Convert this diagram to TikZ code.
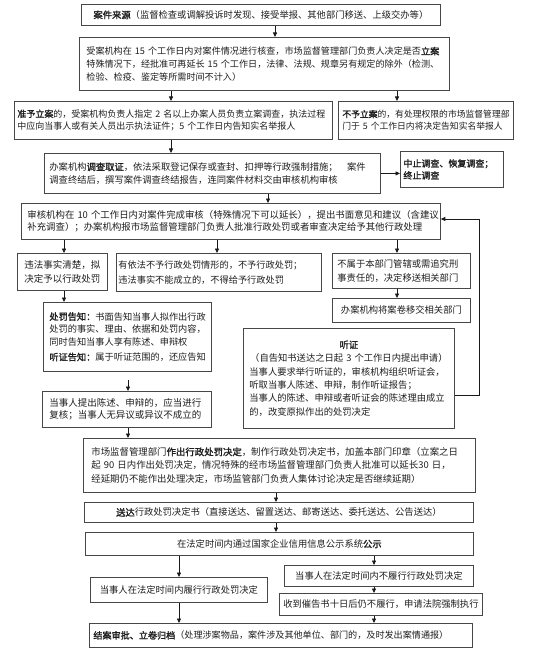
\documentclass[tikz,border=0pt]{standalone}
\usepackage{fontspec}
\setmainfont{Noto Sans CJK SC}
\newfontfamily\bfcjk{Noto Sans CJK SC}[FakeBold=1.6]
\newcommand\B[1]{{\bfcjk #1}}
\newcommand\setfs[2]{\fontsize{#1}{#2}\selectfont}
\usetikzlibrary{arrows.meta}
\tikzset{
  bx/.style={draw=black!72, line width=0.8pt, anchor=north west, inner ysep=0pt, text=black!88},
  arr/.style={-{Triangle[length=4.5pt,width=4pt]}, line width=0.75pt, black!90},
}
\begin{document}
\begin{tikzpicture}[x=1pt,y=-1pt]
\useasboundingbox (0,0) rectangle (554,655);
\fill[white] (0,0) rectangle (554,655);

\node[bx, minimum width=359pt, minimum height=21pt, text width=351pt, inner xsep=4pt, align=center, font=\setfs{9.3}{12}] (b1) at (81,4)
 {\B{案件来源}（监督检查或调解投诉时发现、接受举报、其他部门移送、上级交办等）};

\node[bx, minimum width=370pt, minimum height=53pt, text width=356pt, inner xsep=7pt, align=left, font=\setfs{9.1}{12.7}] (b2) at (79,37)
 {受案机构在~15~个工作日内对案件情况进行核查，市场监督管理部门负责人决定是否\B{立案}\\
  特殊情况下，经批准可再延长~15~个工作日，法律、法规、规章另有规定的除外（检测、\\
  检验、检疫、鉴定等所需时间不计入）};

\node[bx, minimum width=318pt, minimum height=38pt, text width=312pt, inner xsep=3pt, align=left, font=\setfs{9.0}{12.5}] (b3) at (14,101)
 {\B{准予立案}的，受案机构负责人指定~2~名以上办案人员负责立案调查，执法过程\\
  中应向当事人或有关人员出示执法证件；5~个工作日内告知实名举报人};

\node[bx, minimum width=175pt, minimum height=38pt, text width=167pt, inner xsep=4pt, align=left, font=\setfs{8.8}{12.5}] (b4) at (338,101)
 {\B{不予立案}的，有处理权限的市场监督管理部\\
  门于~5~个工作日内将决定告知实名举报人};

\node[bx, minimum width=336pt, minimum height=40pt, text width=326pt, inner xsep=5pt, align=left, font=\setfs{9.3}{13}] (b5) at (44,153)
 {办案机构\B{调查取证}，依法采取登记保存或查封、扣押等行政强制措施；\hspace{1em}案件\\
  调查终结后，撰写案件调查终结报告，连同案件材料交由审核机构审核};

\node[bx, minimum width=103pt, minimum height=36pt, text width=97pt, inner xsep=3pt, align=left, font=\setfs{9.0}{12}] (b6) at (400,151)
 {\B{中止调查、恢复调查；}\\\B{终止调查}};

\node[bx, minimum width=419pt, minimum height=36pt, text width=407pt, inner xsep=6pt, align=left, font=\setfs{9.4}{12.5}] (b7) at (21,203)
 {审核机构在~10~个工作日内对案件完成审核（特殊情况下可以延长），提出书面意见和建议（含建议\\
  补充调查）；办案机构报市场监督管理部门负责人批准行政处罚或者审查决定给予其他行政处理};

\node[bx, minimum width=90pt, minimum height=37pt, text width=80pt, inner xsep=5pt, align=center, font=\setfs{9.5}{14.5}] (b8a) at (17,253)
 {违法事实清楚，拟\\决定予以行政处罚};

\node[bx, minimum width=205pt, minimum height=38pt, text width=201pt, inner xsep=2pt, align=left, font=\setfs{9.2}{14.5}] (b8b) at (116,253)
 {有依法不予行政处罚情形的，不予行政处罚；\\违法事实不能成立的，不得给予行政处罚};

\node[bx, minimum width=138pt, minimum height=35pt, text width=128pt, inner xsep=5pt, align=left, font=\setfs{9.3}{14}] (b8c) at (332,253)
 {不属于本部门管辖或需追究刑\\事责任的，决定移送相关部门};

\node[bx, minimum width=138pt, minimum height=24pt, text width=130pt, inner xsep=4pt, align=center, font=\setfs{9.3}{12}] (b9c) at (332,298)
 {办案机构将案卷移交相关部门};

\node[bx, minimum width=168pt, minimum height=69pt, text width=156pt, inner xsep=6pt, align=left, font=\setfs{9.2}{12.5}] (b9a) at (43,302)
 {\B{处罚告知：}书面告知当事人拟作出行政\\
  处罚的事实、理由、依据和处罚内容，\\
  同时告知当事人享有陈述、申辩权\\[3pt]
  \B{听证告知：}属于听证范围的，还应告知};

\node[bx, minimum width=211pt, minimum height=100pt, text width=199pt, inner xsep=6pt, align=center, font=\setfs{9.3}{13.4}] (ting) at (243,328)
 {\B{听证}\\
  （自告知书送达之日起~3~个工作日内提出申请）\\
  \makebox[199pt][l]{当事人要求举行听证的，审核机构组织听证会，}\\
  \makebox[199pt][l]{听取当事人陈述、申辩，制作听证报告；}\\
  \makebox[199pt][l]{当事人的陈述、申辩或者听证会的陈述理由成立}\\
  \makebox[199pt][l]{的，改变原拟作出的处罚决定}};

\node[bx, minimum width=169pt, minimum height=36pt, text width=155pt, inner xsep=7pt, align=left, font=\setfs{9.5}{12.5}] (b10) at (42,391)
 {当事人提出陈述、申辩的，应当进行\\复核；当事人无异议或异议不成立的};

\node[bx, minimum width=392pt, minimum height=54pt, text width=376pt, inner xsep=8pt, align=left, font=\setfs{9.4}{13.5}] (b11) at (83,438)
 {市场监督管理部门\B{作出行政处罚决定}，制作行政处罚决定书，加盖本部门印章（立案之日\\
  起~90~日内作出处罚决定，情况特殊的经市场监督管理部门负责人批准可以延长30~日，\\
  经延期仍不能作出处理决定，市场监管部门负责人集体讨论决定是否继续延期）};

\node[bx, minimum width=389pt, minimum height=20pt, text width=381pt, inner xsep=4pt, align=center, font=\setfs{9.3}{12}] (b12) at (84,502)
 {\B{送达}行政处罚决定书（直接送达、留置送达、邮寄送达、委托送达、公告送达）};

\node[bx, minimum width=388pt, minimum height=23pt, text width=380pt, inner xsep=4pt, align=center, font=\setfs{9.3}{12}] (b13) at (85,532)
 {在法定时间内通过国家企业信用信息公示系统\B{公示}};

\node[bx, minimum width=177pt, minimum height=25pt, text width=169pt, inner xsep=4pt, align=center, font=\setfs{9.3}{12}] (b14a) at (90,577)
 {当事人在法定时间内履行行政处罚决定};

\node[bx, minimum width=189pt, minimum height=21pt, text width=181pt, inner xsep=4pt, align=center, font=\setfs{9.3}{12}] (b14b) at (284,565)
 {当事人在法定时间内不履行行政处罚决定};

\node[bx, minimum width=203pt, minimum height=22pt, text width=199pt, inner xsep=2pt, align=center, font=\setfs{9.3}{12}] (b15b) at (279,593)
 {收到催告书十日后仍不履行，申请法院强制执行};

\node[bx, minimum width=383pt, minimum height=24pt, text width=375pt, inner xsep=4pt, align=left, font=\setfs{9.1}{12}] (b16) at (89,623)
 {\B{结案审批、立卷归档}（处理涉案物品，案件涉及其他单位、部门的，及时发出案情通报）};

% column coordinates
\coordinate (xa) at (275,0);
\coordinate (xb) at (171,0);
\coordinate (xc) at (397,0);
\coordinate (xd) at (268,0);
\coordinate (xe) at (64,0);
\coordinate (xf) at (217,0);
\coordinate (xg) at (128,0);
\coordinate (xh) at (276,0);
\coordinate (xi) at (179,0);
\coordinate (xj) at (374,0);
\coordinate (fb1) at (479,395);
\coordinate (fb2) at (479,219);

\draw[arr] (b1.south -| xa) -- (b2.north -| xa);
\draw[arr] (b2.south -| xb) -- (b3.north -| xb);
\draw[arr] (b2.south -| xc) -- (b4.north -| xc);
\draw[arr] (b3.south -| xb) -- (b5.north -| xb);
\draw[arr] (b5.east) -- (b5.east -| b6.west);
\draw[arr] (b5.south -| xd) -- (b7.north -| xd);
\draw[arr] (b7.south -| xe) -- (b8a.north -| xe);
\draw[arr] (b7.south -| xf) -- (b8b.north -| xf);
\draw[arr] (b7.south -| xc) -- (b8c.north -| xc);
\draw[arr] (b8c.south -| xc) -- (b9c.north -| xc);
\draw[arr] (b8a.south -| xe) -- (b9a.north -| xe);
\draw[arr, shorten <=8pt] (b9a.south -| xg) -- (b10.north -| xg);
\draw[arr] (b10.south -| xg) -- (b11.north -| xg);
\draw[arr] (b11.south -| xh) -- (b12.north -| xh);
\draw[arr] (b12.south -| xh) -- (b13.north -| xh);
\draw[arr] (b13.south -| xi) -- (b14a.north -| xi);
\draw[arr] (b13.south -| xj) -- (b14b.north -| xj);
\draw[arr] (b14b.south -| xj) -- (b15b.north -| xj);
\draw[arr] (b14a.south -| xi) -- (b16.north -| xi);
\draw[arr] (b15b.south -| xj) -- (b16.north -| xj);
\draw[arr] (ting.east |- fb1) -- (fb1) -- (fb2) -- (b7.east |- fb2);
\end{tikzpicture}
\end{document}
